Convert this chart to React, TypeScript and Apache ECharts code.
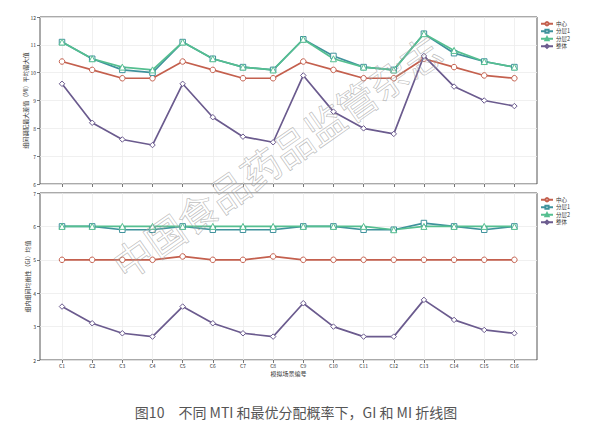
import React, { useEffect, useRef } from "react";
import * as echarts from "echarts";

const categories = ["C1","C2","C3","C4","C5","C6","C7","C8","C9","C10","C11","C12","C13","C14","C15","C16"];
const seriesNames = ["中心", "分层1", "分层2", "整体"];

// Top: MI
const miCenter = [10.4,10.1,9.8,9.8,10.4,10.1,9.8,9.8,10.4,10.1,9.8,9.8,10.5,10.2,9.9,9.8];
const miLayer1 = [11.1,10.5,10.1,10.0,11.1,10.5,10.2,10.1,11.2,10.6,10.2,10.1,11.4,10.7,10.4,10.2];
const miLayer2 = [11.1,10.5,10.2,10.1,11.1,10.5,10.2,10.1,11.2,10.5,10.2,10.1,11.4,10.8,10.4,10.2];
const miWhole  = [9.6,8.2,7.6,7.4,9.6,8.4,7.7,7.5,9.9,8.6,8.0,7.8,10.6,9.5,9.0,8.8];

// Bottom: GI
const giCenter = [5.0,5.0,5.0,5.0,5.1,5.0,5.0,5.1,5.0,5.0,5.0,5.0,5.0,5.0,5.0,5.0];
const giLayer1 = [6.0,6.0,5.9,5.9,6.0,5.9,5.9,5.9,6.0,6.0,5.9,5.9,6.1,6.0,5.9,6.0];
const giLayer2 = [6.0,6.0,6.0,6.0,6.0,6.0,6.0,6.0,6.0,6.0,6.0,5.9,6.0,6.0,6.0,6.0];
const giWhole  = [3.6,3.1,2.8,2.7,3.6,3.1,2.8,2.7,3.7,3.0,2.7,2.7,3.8,3.2,2.9,2.8];

const topYTicks = [6, 12];
const bottomYTicks = [2, 7];

const caption = "图10　不同 MTI 和最优分配概率下，GI 和 MI 折线图";
const watermark = "中国食品药品监管杂志";
const topYName = "组间调配最大差值（MI）平均最大值";
const bottomYName = "组内组间均衡性（GI）均值";
const xName = "模拟场景编号";

const colors = ["#c4604e", "#3f929c", "#55bf90", "#6b5b8e"];
const symbols = ["circle", "rect", "triangle", "diamond"];
const FONT = "Noto Sans CJK SC";

export default function App() {
  const ref = useRef<HTMLDivElement>(null);
  useEffect(() => {
    document.body.style.margin = "0";
    const chart = echarts.init(ref.current!, null, { renderer: "svg" });
    const tickIdx = categories.map((_, i) => i + 1);
    const mkX = (gridIndex: number, showLabels: boolean) => ({
      type: "value",
      gridIndex,
      min: 0.27,
      max: 16.75,
      axisLine: { show: false },
      axisTick: { show: true, customValues: tickIdx, length: 3, lineStyle: { color: "#555", width: 0.8 } },
      axisLabel: {
        show: showLabels,
        customValues: tickIdx,
        formatter: (v: number) => categories[Math.round(v) - 1] ?? "",
        fontSize: 5,
        color: "#333",
        margin: 3,
        fontFamily: FONT,
      },
      splitLine: { show: true, lineStyle: { color: "#ececec", width: 0.8 } },
      name: showLabels ? xName : "",
      nameLocation: "middle",
      nameGap: 10,
      nameMoveOverlap: false,
      nameTextStyle: { fontSize: 6, color: "#333", fontFamily: FONT },
    });
    const mkY = (gridIndex: number, range: number[], name: string, gap: number) => ({
      type: "value",
      gridIndex,
      min: range[0],
      max: range[1],
      interval: 1,
      axisLine: { show: false },
      axisTick: { show: true, length: 3, lineStyle: { color: "#555", width: 0.8 } },
      axisLabel: { fontSize: 5, color: "#333", margin: 4, fontFamily: FONT },
      splitLine: { show: true, lineStyle: { color: "#ececec", width: 0.8 } },
      name,
      nameLocation: "middle",
      nameGap: gap,
      nameMoveOverlap: false,
      nameTextStyle: { fontSize: 6, color: "#333", fontFamily: FONT },
    });
    const mkSeries = (idx: number, data: number[], k: number) => ({
      type: "line",
      name: seriesNames[k],
      xAxisIndex: idx,
      yAxisIndex: idx,
      data: data.map((v, i) => [i + 1, v]),
      symbol: symbols[k],
      symbolSize: k === 2 ? 6 : 5.5,
      showSymbol: true,
      lineStyle: { color: colors[k], width: 1.7 },
      itemStyle: { color: "#fff", borderColor: colors[k], borderWidth: 1 },
      color: colors[k],
      z: k === 3 ? 3 : 2,
    });
    const mkLegend = (top: number) => ({
      orient: "vertical",
      left: 540,
      top,
      itemWidth: 12,
      itemHeight: 4,
      itemGap: 2,
      data: seriesNames,
      textStyle: { fontSize: 5.5, color: "#333", fontFamily: FONT, padding: [0, 0, 0, -2] },
      padding: 0,
    });
    chart.setOption({
      animation: false,
      backgroundColor: "#fff",
      textStyle: { fontFamily: FONT },
      grid: [
        { left: 40, top: 17, width: 497, height: 167, show: true, borderColor: "#555", borderWidth: 1, backgroundColor: "transparent" },
        { left: 40, top: 193, width: 497, height: 167, show: true, borderColor: "#555", borderWidth: 1, backgroundColor: "transparent" },
      ],
      legend: [mkLegend(21), mkLegend(197)],
      xAxis: [mkX(0, false), mkX(1, true)],
      yAxis: [mkY(0, topYTicks, topYName, 12), mkY(1, bottomYTicks, bottomYName, 10)],
      series: [
        mkSeries(0, miCenter, 0),
        mkSeries(0, miLayer1, 1),
        mkSeries(0, miLayer2, 2),
        mkSeries(0, miWhole, 3),
        mkSeries(1, giCenter, 0),
        mkSeries(1, giLayer1, 1),
        mkSeries(1, giLayer2, 2),
        mkSeries(1, giWhole, 3),
      ],
      graphic: [
        {
          type: "text",
          x: 276,
          y: 156,
          rotation: (35 * Math.PI) / 180,
          z: 100,
          silent: true,
          style: {
            text: watermark,
            fontSize: 39,
            fontFamily: FONT,
            fill: "rgba(255,255,255,0.1)",
            stroke: "rgba(150,150,150,0.65)",
            lineWidth: 0.7,
            align: "center",
            verticalAlign: "middle",
          },
        },
        {
          type: "text",
          x: 296,
          y: 412,
          style: {
            text: caption,
            fontSize: 14,
            fontFamily: FONT,
            fill: "#555",
            align: "center",
            verticalAlign: "middle",
          },
        },
      ],
    });
    return () => chart.dispose();
  }, []);
  return <div ref={ref} style={{ width: 591, height: 433 }} />;
}
